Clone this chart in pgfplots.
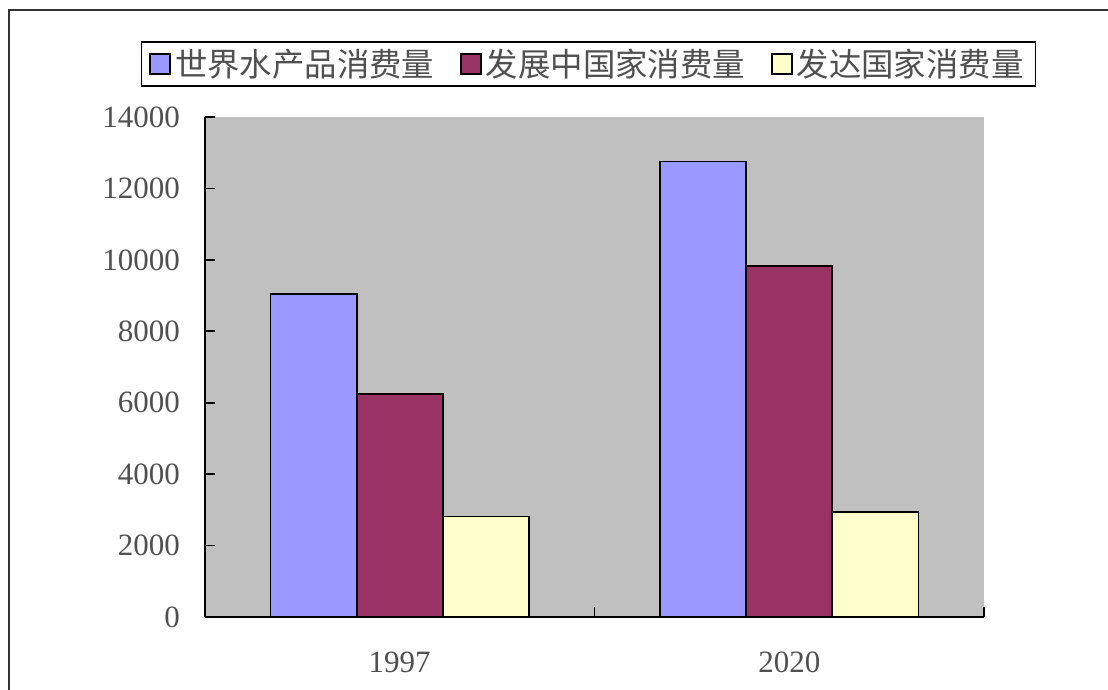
\documentclass[border=0pt]{standalone}
\usepackage{pgfplots}
\pgfplotsset{compat=1.18}
\usepackage{fontspec}
\setmainfont{Liberation Serif}
\newfontfamily\cjk{Noto Sans CJK SC}
\definecolor{cA}{HTML}{9999FF}
\definecolor{cB}{HTML}{993366}
\definecolor{cC}{HTML}{FFFFCC}
\definecolor{bg}{HTML}{C0C0C0}
\definecolor{txt}{HTML}{505050}
\begin{document}
\begin{tikzpicture}
\path[use as bounding box] (-102.5pt,-36.5pt) rectangle (451.5pt,308.5pt);
\draw[line width=0.8pt, black!80] (-98pt,-36.5pt) -- (-98pt,303.5pt) -- (451.5pt,303.5pt);
\begin{axis}[
  at={(0,0)}, anchor=south west,
  scale only axis,
  width=389.5pt, height=250pt,
  ybar=0pt,
  bar width=0.221,
  xmin=-0.5, xmax=1.5,
  ymin=0, ymax=14000,
  ytick={0,2000,...,14000},
  xtick={-0.5,0.5,1.5},
  xticklabels={},
  extra x ticks={0,1},
  extra x tick labels={1997,2020},
  extra x tick style={major tick length=0pt, xticklabel style={yshift=-14pt}},
  axis x line*=bottom,
  axis y line*=left,
  axis line style={line width=0.9pt, black},
  tick align=inside,
  major tick length=5pt,
  tick style={line width=0.9pt, black},
  axis background/.style={fill=bg},
  scaled y ticks=false,
  /pgf/number format/assume math mode=true,
  /pgf/number format/1000 sep={},
  ticklabel style={font=\fontsize{15.5}{18}\selectfont, text=txt},
  yticklabel style={xshift=-9pt},
  legend style={
    at={(0.4923,1.106)}, anchor=center,
    legend columns=3,
    draw=black, line width=0.9pt,
    font=\cjk\fontsize{16.2}{19}\selectfont,
    text=txt,
    inner xsep=4pt, inner ysep=1.5pt,
    /tikz/every even column/.append style={column sep=11pt},
  },
  legend image code/.code={\draw[#1, line width=0.8pt] (0pt,-5pt) rectangle (10pt,5pt);},
]
\addplot[fill=cA, draw=black, line width=0.8pt] coordinates {(0,9050) (1,12750)};
\addplot[fill=cB, draw=black, line width=0.8pt] coordinates {(0,6250) (1,9820)};
\addplot[fill=cC, draw=black, line width=0.8pt] coordinates {(0,2810) (1,2940)};
\legend{世界水产品消费量,发展中国家消费量,发达国家消费量}
\end{axis}
\end{tikzpicture}
\end{document}
